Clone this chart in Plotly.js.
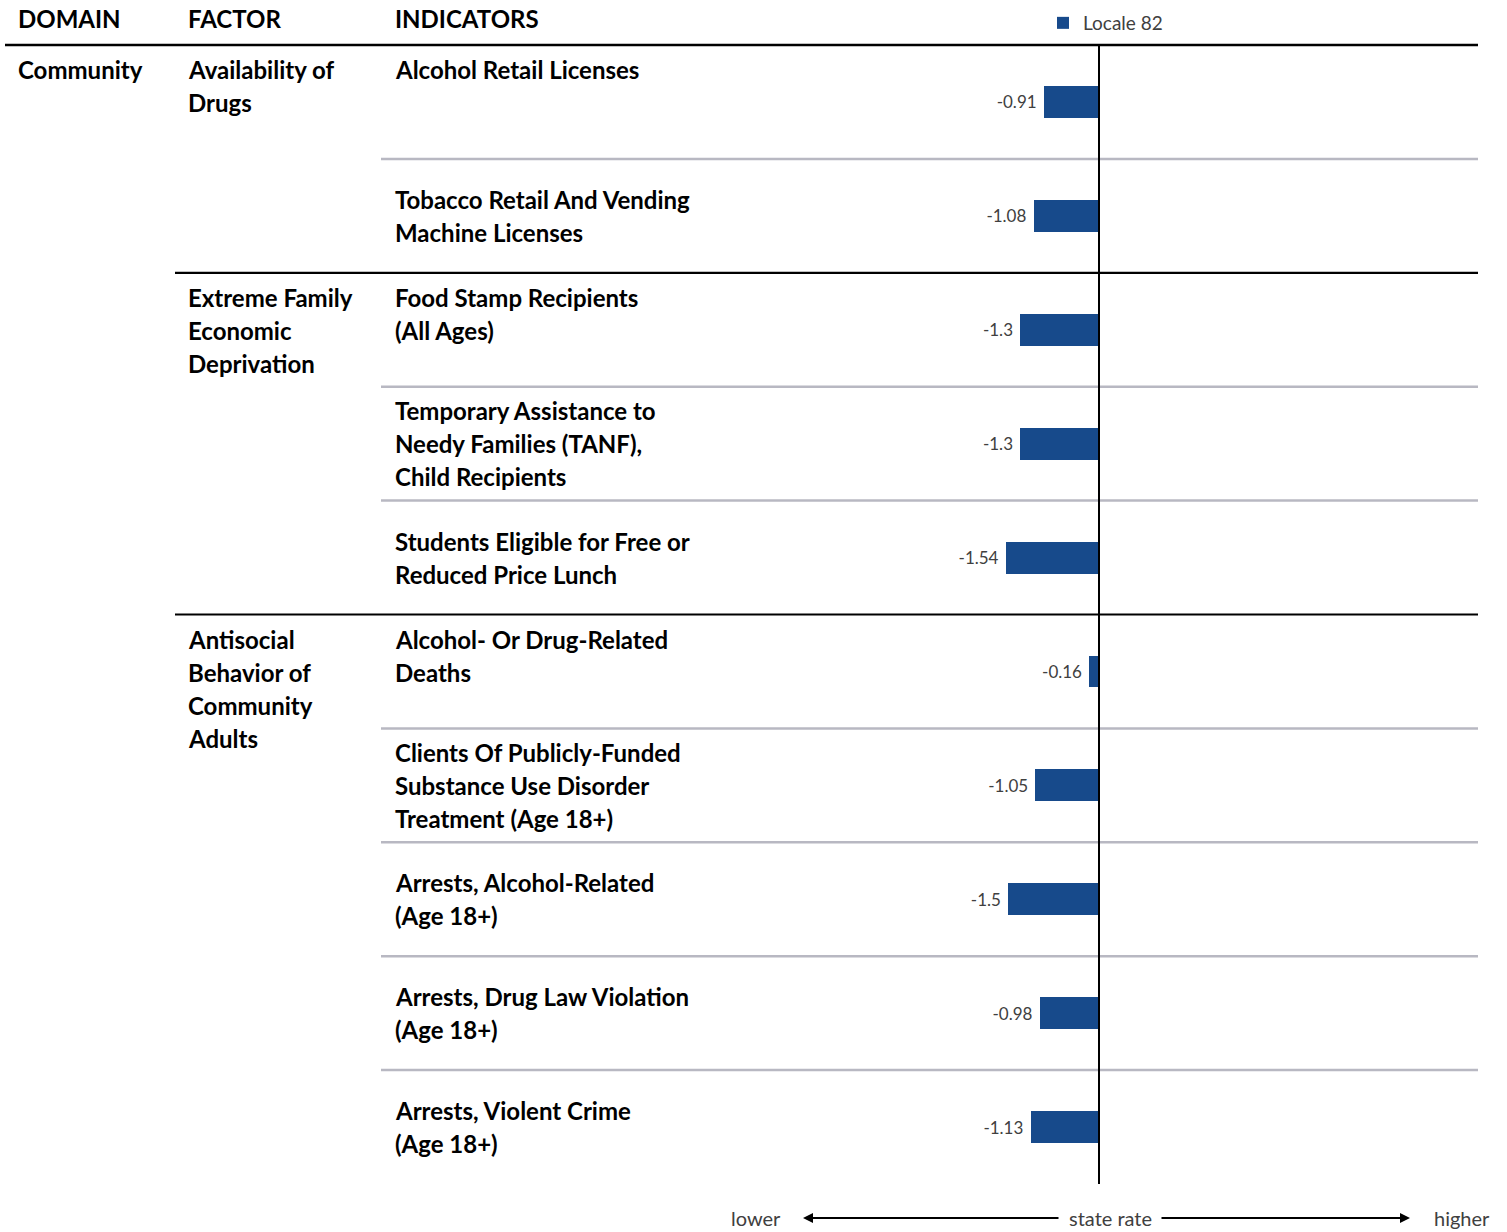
<!DOCTYPE html>
<html>
<head>
<meta charset="utf-8">
<script src="https://cdn.plot.ly/plotly-3.0.1.min.js"></script>
<style>html,body{margin:0;padding:0;background:#fff;}#chart{width:1507px;height:1232px;}</style>
</head>
<body>
<div id="chart"></div>
<script>
// ---------- DATA ----------
var headers = ['DOMAIN', 'FACTOR', 'INDICATORS'];
var domains = ['Community'];
var factors = ['Availability of\nDrugs', 'Extreme Family\nEconomic\nDeprivation', 'Antisocial\nBehavior of\nCommunity\nAdults'];
var factorSizes = [2, 3, 5];
var indicators = [
  'Alcohol Retail Licenses',
  'Tobacco Retail And Vending\nMachine Licenses',
  'Food Stamp Recipients\n(All Ages)',
  'Temporary Assistance to\nNeedy Families (TANF),\nChild Recipients',
  'Students Eligible for Free or\nReduced Price Lunch',
  'Alcohol- Or Drug-Related\nDeaths',
  'Clients Of Publicly-Funded\nSubstance Use Disorder\nTreatment (Age 18+)',
  'Arrests, Alcohol-Related\n(Age 18+)',
  'Arrests, Drug Law Violation\n(Age 18+)',
  'Arrests, Violent Crime\n(Age 18+)'
];
var values = [-0.91, -1.08, -1.3, -1.3, -1.54, -0.16, -1.05, -1.5, -0.98, -1.13];
var seriesName = 'Locale 82';
var scaleLabels = ['lower', 'state rate', 'higher'];

// ---------- LAYOUT CONSTANTS ----------
var W = 1507, H = 1232;
var zeroPx = 1099, pxPerUnit = 60.5;
var topPx = 45, bottomPx = 1184;
var rowPx = (bottomPx - topPx) / indicators.length;
var textFont = 'Lato, Calibri, Carlito, sans-serif';
var fs = 24, lineH = 33;
var barColor = '#174a8b';
var colX = [16, 186, 393];

function px(x) { return x / W; }
function py(y) { return (H - y) / H; }

var rowIdx = indicators.map(function (_, i) { return i; });

var annotations = [];
var shapes = [];

// headers
headers.forEach(function (h, k) {
  annotations.push({xref: 'paper', yref: 'paper', x: px(colX[k]), y: py(18), xanchor: 'left', yanchor: 'middle',
    text: '<b>' + h + '</b>', showarrow: false, font: {family: textFont, size: fs, color: '#000'}});
});

function addBlock(text, col, rowIndex, mode) {
  var lines = text.split('\n');
  lines.forEach(function (ln, j) {
    var yCenter;
    if (mode === 'top') {
      yCenter = topPx + rowIndex * rowPx + 25 + j * lineH;
    } else {
      yCenter = topPx + (rowIndex + 0.5) * rowPx + (j - (lines.length - 1) / 2) * lineH;
    }
    annotations.push({xref: 'paper', yref: 'paper', x: px(colX[col]), y: py(yCenter), xanchor: 'left', yanchor: 'middle',
      text: '<b>' + ln + '</b>', showarrow: false, font: {family: textFont, size: fs, color: '#000'}});
  });
}

addBlock(domains[0], 0, 0, 'top');
var start = 0;
var groupStarts = [];
factors.forEach(function (f, k) {
  groupStarts.push(start);
  addBlock(f, 1, start, 'top');
  start += factorSizes[k];
});
indicators.forEach(function (t, i) {
  addBlock(t, 2, i, groupStarts.indexOf(i) >= 0 ? 'top' : 'center');
});

// header line
shapes.push({type: 'line', xref: 'paper', yref: 'paper', x0: px(5), x1: px(1478), y0: py(topPx), y1: py(topPx),
  line: {color: '#000', width: 2.5}});
// row separators
for (var i = 1; i < indicators.length; i++) {
  var isGroup = groupStarts.indexOf(i) >= 0;
  shapes.push({type: 'line', xref: 'paper', yref: 'y', x0: px(isGroup ? 175 : 381), x1: px(1478), y0: i - 0.5, y1: i - 0.5,
    line: {color: isGroup ? '#000' : '#b8b8c2', width: isGroup ? 2.2 : 2.5}});
}
// zero line
shapes.push({type: 'line', xref: 'x', yref: 'paper', x0: 0, x1: 0, y0: py(bottomPx), y1: py(topPx),
  line: {color: '#000', width: 2}, layer: 'above'});

// bottom scale
var scaleY = py(1218);
var scaleFont = {family: textFont, size: 20, color: '#404040'};
annotations.push({xref: 'paper', yref: 'paper', x: px(783), y: scaleY, xanchor: 'right', yanchor: 'middle', text: scaleLabels[0],
  showarrow: false, font: scaleFont});
annotations.push({xref: 'paper', yref: 'paper', x: px(1110), y: scaleY, xanchor: 'center', yanchor: 'middle', text: scaleLabels[1],
  showarrow: false, font: scaleFont});
annotations.push({xref: 'paper', yref: 'paper', x: px(1432), y: scaleY, xanchor: 'left', yanchor: 'middle', text: scaleLabels[2],
  showarrow: false, font: scaleFont});
annotations.push({xref: 'paper', yref: 'paper', x: px(803), y: scaleY, ax: 257, ay: 0, text: '', showarrow: true,
  arrowhead: 2, arrowsize: 1, arrowwidth: 2, arrowcolor: '#000', standoff: 0, startstandoff: 0});
annotations.push({xref: 'paper', yref: 'paper', x: px(1410), y: scaleY, ax: -250, ay: 0, text: '', showarrow: true,
  arrowhead: 2, arrowsize: 1, arrowwidth: 2, arrowcolor: '#000', standoff: 0, startstandoff: 0});

var trace = {
  type: 'bar', orientation: 'h', name: seriesName,
  x: values, y: rowIdx,
  width: 0.28,
  marker: {color: barColor},
  text: values.map(function (v) { return String(v) + '\u00a0'; }), textposition: 'outside', cliponaxis: false,
  textfont: {family: textFont, size: 17, color: '#404040'},
  hoverinfo: 'x'
};

var layout = {
  width: W, height: H,
  margin: {l: 0, r: 0, t: 0, b: 0},
  paper_bgcolor: '#fff', plot_bgcolor: 'rgba(0,0,0,0)',
  showlegend: true,
  legend: {x: px(1043), y: py(4), xanchor: 'left', yanchor: 'top', bgcolor: 'rgba(0,0,0,0)',
    font: {family: textFont, size: 19, color: '#404040'}, itemwidth: 30},
  xaxis: {domain: [0, 1], range: [-zeroPx / pxPerUnit, (W - zeroPx) / pxPerUnit], showgrid: false, zeroline: false,
    showticklabels: false, ticks: '', fixedrange: true},
  yaxis: {domain: [py(bottomPx), py(topPx)], range: [indicators.length - 0.5, -0.5], showgrid: false, zeroline: false,
    showticklabels: false, ticks: '', fixedrange: true},
  bargap: 0,
  shapes: shapes,
  annotations: annotations
};

Plotly.newPlot('chart', [trace], layout, {displayModeBar: false, staticPlot: true});
</script>
</body>
</html>
